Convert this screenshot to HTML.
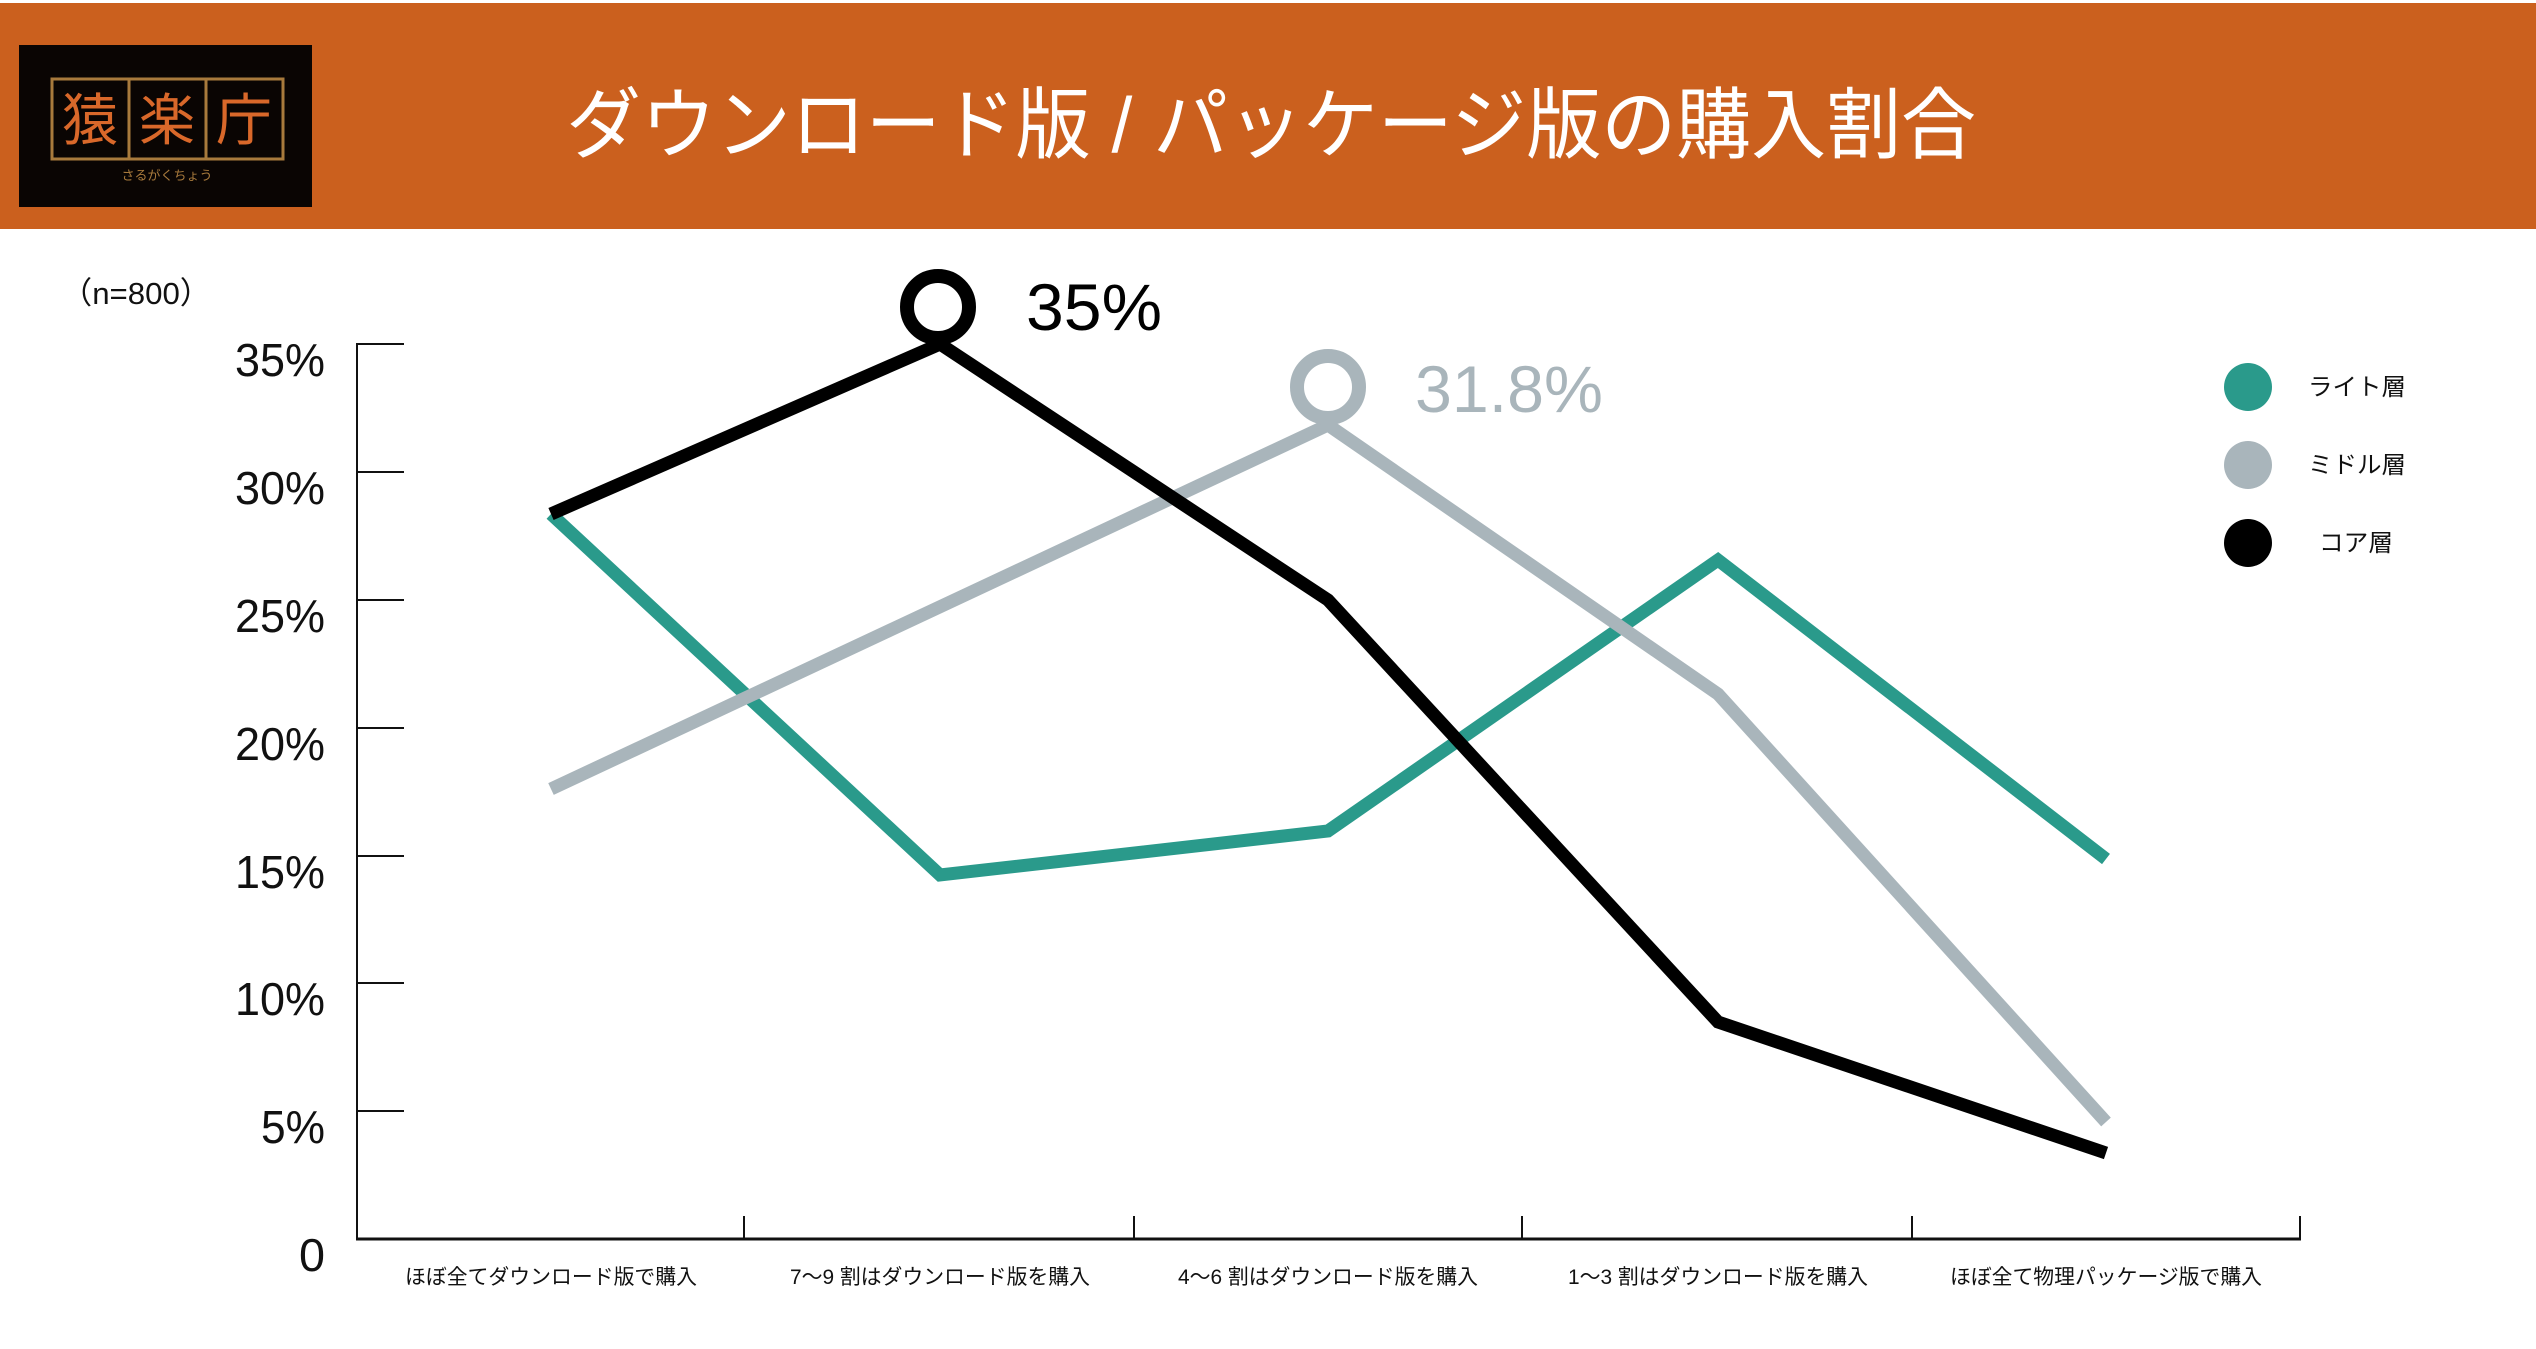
<!DOCTYPE html>
<html><head><meta charset="utf-8"><style>
html,body{margin:0;padding:0;background:#fff;}
svg{display:block;}
text{font-family:"Liberation Sans","Noto Sans CJK JP",sans-serif;}
</style></head><body>
<svg width="2536" height="1349" viewBox="0 0 2536 1349" xmlns="http://www.w3.org/2000/svg">
<rect x="0" y="0" width="2536" height="1349" fill="#fff"/>
<rect x="0" y="3" width="2536" height="226" fill="#cb601e"/>
<!-- logo -->
<rect x="19" y="45" width="293" height="162" fill="#0a0503"/>
<rect x="52" y="79" width="231" height="80" fill="none" stroke="#a87a3c" stroke-width="3"/>
<line x1="129" y1="79" x2="129" y2="159" stroke="#a87a3c" stroke-width="3"/>
<line x1="206" y1="79" x2="206" y2="159" stroke="#a87a3c" stroke-width="3"/>
<text x="90" y="140" font-size="56" fill="#d9682a" text-anchor="middle">猿</text>
<text x="167" y="140" font-size="56" fill="#d9682a" text-anchor="middle">楽</text>
<text x="244" y="140" font-size="56" fill="#d9682a" text-anchor="middle">庁</text>
<text x="167" y="180" font-size="13" fill="#a87a3c" text-anchor="middle">さるがくちょう</text>
<!-- title -->
<text x="566" y="152" font-size="78" fill="#fff" textLength="1410" lengthAdjust="spacingAndGlyphs">ダウンロード版 / パッケージ版の購入割合</text>
<!-- n -->
<text x="61" y="304" font-size="31" fill="#111" textLength="150" lengthAdjust="spacingAndGlyphs">（n=800）</text>
<!-- axes -->
<line x1="357" y1="343" x2="357" y2="1240" stroke="#111" stroke-width="2"/>
<line x1="356" y1="1239" x2="2301" y2="1239" stroke="#111" stroke-width="3"/>
<g stroke="#111" stroke-width="2">
<line x1="357" y1="344" x2="404" y2="344"/>
<line x1="357" y1="472" x2="404" y2="472"/>
<line x1="357" y1="600" x2="404" y2="600"/>
<line x1="357" y1="728" x2="404" y2="728"/>
<line x1="357" y1="856" x2="404" y2="856"/>
<line x1="357" y1="983" x2="404" y2="983"/>
<line x1="357" y1="1111" x2="404" y2="1111"/>
<line x1="744" y1="1216" x2="744" y2="1239"/>
<line x1="1134" y1="1216" x2="1134" y2="1239"/>
<line x1="1522" y1="1216" x2="1522" y2="1239"/>
<line x1="1912" y1="1216" x2="1912" y2="1239"/>
<line x1="2300" y1="1216" x2="2300" y2="1239"/>
</g>
<g font-size="46" fill="#111" text-anchor="end">
<text x="325" y="376" textLength="90" lengthAdjust="spacingAndGlyphs">35%</text>
<text x="325" y="504" textLength="90" lengthAdjust="spacingAndGlyphs">30%</text>
<text x="325" y="632" textLength="90" lengthAdjust="spacingAndGlyphs">25%</text>
<text x="325" y="760" textLength="90" lengthAdjust="spacingAndGlyphs">20%</text>
<text x="325" y="888" textLength="90" lengthAdjust="spacingAndGlyphs">15%</text>
<text x="325" y="1015" textLength="90" lengthAdjust="spacingAndGlyphs">10%</text>
<text x="325" y="1143" textLength="64" lengthAdjust="spacingAndGlyphs">5%</text>
<text x="325" y="1271" textLength="26" lengthAdjust="spacingAndGlyphs">0</text>
</g>
<g font-size="21" fill="#111" text-anchor="middle">
<text x="551" y="1284" textLength="292" lengthAdjust="spacingAndGlyphs">ほぼ全てダウンロード版で購入</text>
<text x="940" y="1284" textLength="300" lengthAdjust="spacingAndGlyphs">7〜9 割はダウンロード版を購入</text>
<text x="1328" y="1284" textLength="300" lengthAdjust="spacingAndGlyphs">4〜6 割はダウンロード版を購入</text>
<text x="1718" y="1284" textLength="300" lengthAdjust="spacingAndGlyphs">1〜3 割はダウンロード版を購入</text>
<text x="2106" y="1284" textLength="312" lengthAdjust="spacingAndGlyphs">ほぼ全て物理パッケージ版で購入</text>
</g>
<!-- series -->
<g fill="none" stroke-width="13" stroke-linejoin="miter">
<polyline stroke="#2a9a8b" points="551,514 940,875 1328,831 1718,560 2106,859"/>
<polyline stroke="#a9b5bb" points="551,789 1328,425 1718,694 2106,1122"/>
<polyline stroke="#000" points="551,514 940,344 1328,600 1718,1022 2106,1153"/>
</g>
<circle cx="938" cy="307" r="31" fill="#fff" stroke="#000" stroke-width="14"/>
<circle cx="1328" cy="387" r="31" fill="#fff" stroke="#a9b5bb" stroke-width="14"/>
<text x="1026" y="330" font-size="66" fill="#000" textLength="136" lengthAdjust="spacingAndGlyphs">35%</text>
<text x="1415" y="412" font-size="66" fill="#a9b5bb" textLength="188" lengthAdjust="spacingAndGlyphs">31.8%</text>
<!-- legend -->
<circle cx="2248" cy="387" r="24" fill="#2a9a8b"/>
<circle cx="2248" cy="465" r="24" fill="#a9b5bb"/>
<circle cx="2248" cy="543" r="24" fill="#000"/>
<g font-size="24" fill="#111">
<text x="2308" y="395" textLength="98" lengthAdjust="spacingAndGlyphs">ライト層</text>
<text x="2308" y="473" textLength="98" lengthAdjust="spacingAndGlyphs">ミドル層</text>
<text x="2319" y="551" textLength="74" lengthAdjust="spacingAndGlyphs">コア層</text>
</g>
</svg>
</body></html>
